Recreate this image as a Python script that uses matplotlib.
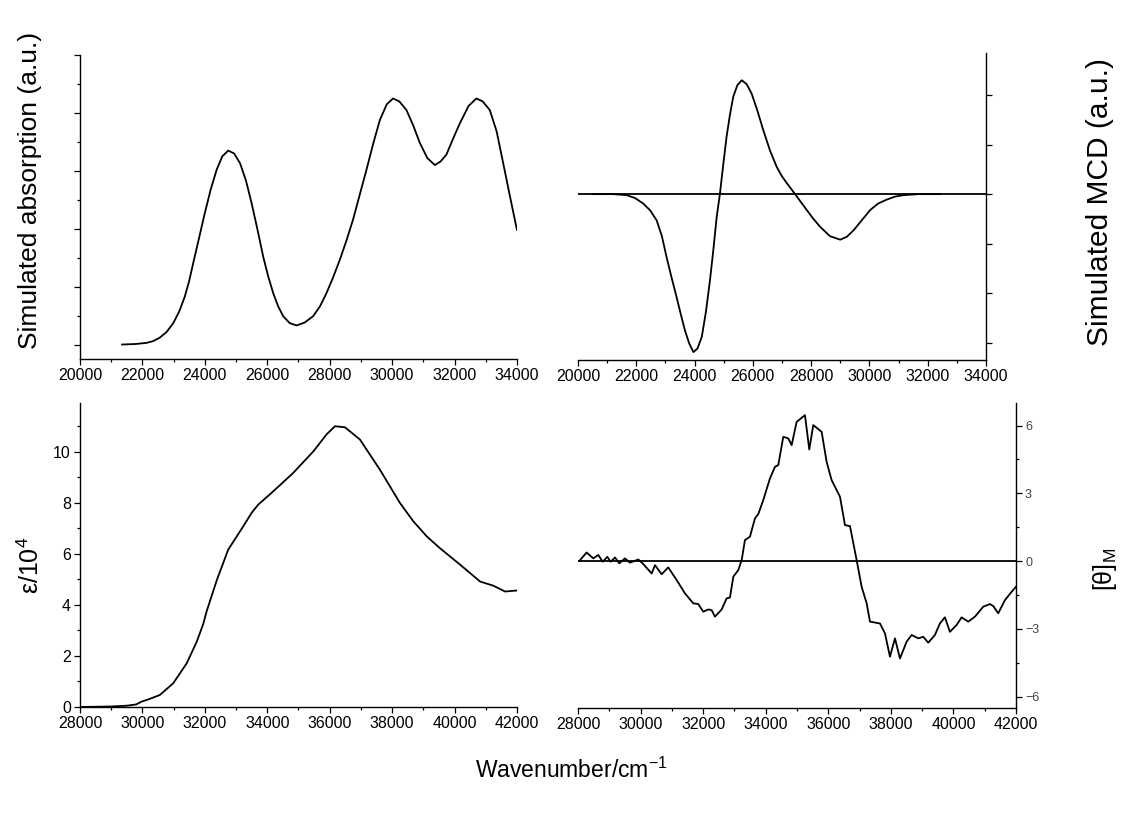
import matplotlib.pyplot as plt
from matplotlib.ticker import MultipleLocator, NullFormatter

plt.rcParams['font.family'] = ['Liberation Sans', 'DejaVu Sans']
plt.rcParams['mathtext.fontset'] = 'custom'
plt.rcParams['mathtext.rm'] = 'Liberation Sans'
plt.rcParams['mathtext.it'] = 'Liberation Sans:italic'

# simulated absorption (a.u.)
abs_wn = [21350, 21800, 22140, 22350, 22560, 22780, 22990, 23180, 23360, 23500,
          23630, 23820, 24000, 24190, 24380, 24560, 24750, 24940, 25130, 25320,
          25500, 25690, 25870, 26030, 26190, 26350, 26510, 26720, 26940, 27200,
          27470, 27690, 27900, 28110, 28330, 28540, 28750, 28960, 29180, 29400,
          29610, 29830, 30030, 30230, 30460, 30680, 30890, 31130, 31370, 31550,
          31740, 31950, 32170, 32450, 32700, 32900, 33130, 33350, 33560, 33780,
          34000]
abs_val = [0.0, 0.01, 0.03, 0.06, 0.12, 0.22, 0.37, 0.57, 0.83, 1.10,
           1.41, 1.85, 2.27, 2.68, 3.02, 3.25, 3.35, 3.30, 3.13, 2.83,
           2.44, 1.98, 1.52, 1.18, 0.89, 0.66, 0.49, 0.37, 0.33, 0.38,
           0.49, 0.66, 0.89, 1.16, 1.47, 1.80, 2.16, 2.58, 3.02, 3.48,
           3.88, 4.15, 4.25, 4.20, 4.05, 3.78, 3.48, 3.22, 3.10, 3.16,
           3.28, 3.55, 3.82, 4.12, 4.25, 4.20, 4.05, 3.68, 3.13, 2.55,
           1.98]

# simulated MCD (a.u.)
mcd_wn = [20500, 21200, 21670, 21960, 22240, 22480, 22700, 22880, 23040, 23210,
          23380, 23530, 23670, 23820, 23960, 24100, 24250, 24390, 24530, 24650,
          24760, 24870, 24990, 25100, 25220, 25330, 25470, 25620, 25790, 25960,
          26160, 26360, 26590, 26820, 27000, 27170, 27310, 27450, 27650, 27850,
          28080, 28310, 28650, 29000, 29230, 29460, 29750, 30030, 30300, 30600,
          30880, 31170, 31700, 32430]
mcd_val = [0.0, 0.0, -0.02, -0.08, -0.19, -0.33, -0.53, -0.85, -1.27, -1.68,
           -2.07, -2.43, -2.75, -3.02, -3.19, -3.12, -2.88, -2.38, -1.74, -1.10,
           -0.46, 0.0, 0.62, 1.16, 1.62, 1.97, 2.20, 2.30, 2.22, 2.03,
           1.68, 1.29, 0.88, 0.55, 0.36, 0.22, 0.11, 0.0, -0.16, -0.32,
           -0.50, -0.66, -0.85, -0.92, -0.86, -0.73, -0.52, -0.32, -0.19, -0.11,
           -0.05, -0.02, 0.0, 0.0]

# measured absorption, epsilon / 10^4
eps_wn = [28000, 28500, 29000, 29500, 29800, 29975, 30200, 30560, 30990, 31420,
          31740, 31950, 32060, 32380, 32750, 33230, 33500, 33710, 34190, 34830,
          35480, 35900, 36170, 36490, 36970, 37610, 38250, 38680, 39110, 39530,
          40180, 40820, 41240, 41620, 41990]
eps_val = [0.0, 0.01, 0.02, 0.05, 0.10, 0.21, 0.30, 0.47, 0.93, 1.71,
           2.55, 3.25, 3.75, 4.95, 6.16, 7.07, 7.60, 7.92, 8.44, 9.16,
           10.01, 10.67, 10.99, 10.95, 10.47, 9.29, 7.99, 7.27, 6.68, 6.22,
           5.57, 4.91, 4.75, 4.52, 4.56]

# measured MCD, [theta]_M
theta_wn = [28064, 28277, 28490, 28650, 28790, 28937, 29045, 29183, 29320, 29502,
            29662, 29927, 30087, 30355, 30461, 30675, 30886, 31154, 31420, 31685,
            31845, 32005, 32165, 32272, 32378, 32592, 32752, 32858, 32965, 33124,
            33232, 33337, 33497, 33657, 33763, 33923, 34136, 34296, 34402, 34562,
            34722, 34829, 34989, 35255, 35393, 35521, 35788, 35948, 36108, 36374,
            36534, 36694, 36907, 37067, 37227, 37333, 37652, 37812, 37972, 38132,
            38291, 38504, 38664, 38877, 39036, 39196, 39409, 39568, 39728, 39888,
            40101, 40261, 40474, 40687, 40953, 41166, 41273, 41432, 41646, 41859,
            41998]
theta_val = [0.04, 0.38, 0.12, 0.27, -0.03, 0.19, -0.03, 0.16, -0.10, 0.12,
             -0.07, 0.07, -0.13, -0.55, -0.18, -0.58, -0.28, -0.84, -1.43, -1.87,
             -1.90, -2.24, -2.14, -2.17, -2.46, -2.14, -1.65, -1.61, -0.69, -0.40,
             0.04, 0.93, 1.08, 1.89, 2.08, 2.70, 3.66, 4.17, 4.25, 5.50,
             5.43, 5.13, 6.16, 6.46, 4.94, 6.02, 5.72, 4.39, 3.58, 2.85,
             1.59, 1.55, 0.04, -1.14, -1.87, -2.68, -2.76, -3.20, -4.23, -3.42,
             -4.31, -3.57, -3.27, -3.42, -3.35, -3.61, -3.27, -2.76, -2.49, -3.13,
             -2.83, -2.49, -2.68, -2.46, -2.02, -1.90, -1.99, -2.31, -1.73, -1.36,
             -1.14]

LW = 1.3

fig = plt.figure(figsize=(11.26, 8.13), dpi=100)
ax_tl = fig.add_axes([0.0710, 0.5584, 0.3881, 0.3739])
ax_tr = fig.add_axes([0.5133, 0.5572, 0.3623, 0.3776])
ax_bl = fig.add_axes([0.0710, 0.1304, 0.3881, 0.3739])
ax_br = fig.add_axes([0.5133, 0.1292, 0.3890, 0.3752])


def style(ax, side):
    for s in ['top', 'left', 'right']:
        ax.spines[s].set_visible(False)
    ax.spines[side].set_visible(True)
    for s in ax.spines.values():
        s.set_linewidth(1.0)
    ax.tick_params(which='both', direction='out', width=0.9, labelsize=11.5,
                   pad=2)
    ax.tick_params(which='major', length=4.5)
    ax.tick_params(which='minor', length=2.5)
    ax.tick_params(axis='y', left=(side == 'left'), right=(side == 'right'),
                   labelleft=(side == 'left'), labelright=(side == 'right'),
                   which='both')
    ax.tick_params(axis='x', top=False, which='both')
    ax.xaxis.set_major_locator(MultipleLocator(2000))
    ax.xaxis.set_minor_locator(MultipleLocator(1000))


# top left: simulated absorption
ax_tl.plot(abs_wn, abs_val, color='black', lw=LW)
style(ax_tl, 'left')
ax_tl.set_xlim(20000, 34000)
ax_tl.set_ylim(-0.25, 5.0)
ax_tl.yaxis.set_major_locator(MultipleLocator(1))
ax_tl.yaxis.set_minor_locator(MultipleLocator(0.5))
ax_tl.yaxis.set_major_formatter(NullFormatter())

# top right: simulated MCD
ax_tr.axhline(0, color='black', lw=LW)
ax_tr.plot(mcd_wn, mcd_val, color='black', lw=LW)
style(ax_tr, 'right')
ax_tr.set_xlim(20000, 34000)
ax_tr.set_ylim(-3.35, 2.85)
ax_tr.yaxis.set_major_locator(MultipleLocator(1))
ax_tr.yaxis.set_major_formatter(NullFormatter())

# bottom left: epsilon
ax_bl.plot(eps_wn, eps_val, color='black', lw=LW)
style(ax_bl, 'left')
ax_bl.set_xlim(28000, 42000)
ax_bl.set_ylim(0, 11.9)
ax_bl.yaxis.set_major_locator(MultipleLocator(2))
ax_bl.yaxis.set_minor_locator(MultipleLocator(1))

# bottom right: [theta]_M
ax_br.axhline(0, color='black', lw=LW)
ax_br.plot(theta_wn, theta_val, color='black', lw=LW)
style(ax_br, 'right')
ax_br.set_xlim(28000, 42000)
ax_br.set_ylim(-6.5, 7.0)
ax_br.yaxis.set_major_locator(MultipleLocator(3))
ax_br.yaxis.set_minor_locator(MultipleLocator(1.5))
ax_br.tick_params(axis='y', labelsize=9, labelcolor='#444444')

# axis titles
fig.text(0.027, 0.766, 'Simulated absorption (a.u.)', rotation=90,
         ha='center', va='center', fontsize=19)
fig.text(0.977, 0.752, 'Simulated MCD (a.u.)', rotation=90,
         ha='center', va='center', fontsize=21.5)
fig.text(0.027, 0.305, 'ε/10$^{4}$', rotation=90,
         ha='center', va='center', fontsize=18)
fig.text(0.981, 0.30, '[θ]$_{\\mathrm{M}}$', rotation=90,
         ha='center', va='center', fontsize=18)
fig.text(0.507, 0.053, 'Wavenumber/cm$^{-1}$', ha='center', va='center',
         fontsize=16.5)

fig.savefig('out.png', dpi=100)
